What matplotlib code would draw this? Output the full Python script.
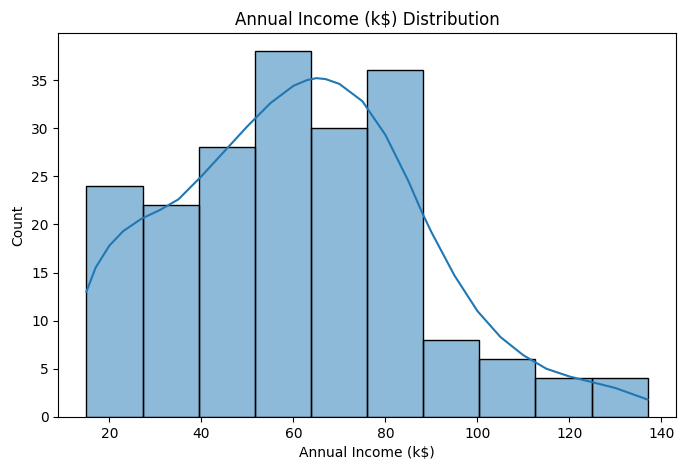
import matplotlib
matplotlib.use("Agg")
import matplotlib.pyplot as plt
import numpy as np

bin_edges = [15.0, 27.2, 39.4, 51.6, 63.8, 76.0, 88.2, 100.4, 112.6, 124.8, 137.0]
counts = [24, 22, 28, 38, 30, 36, 8, 6, 4, 4]
kde_x = [15, 17, 20, 23, 27, 31, 35, 40, 45, 50, 55, 60, 63, 65, 67, 70, 75, 80, 85, 88, 90, 95, 100, 105, 110, 115, 120, 125, 130, 137]
kde_y = [13, 15.5, 17.8, 19.3, 20.6, 21.5, 22.6, 25, 27.6, 30.2, 32.6, 34.4, 35.0, 35.2, 35.1, 34.6, 32.8, 29.3, 24.5, 21.2, 19.2, 14.7, 11.0, 8.3, 6.4, 5.0, 4.2, 3.6, 3.0, 1.8]

fig, ax = plt.subplots(figsize=(6.86, 4.7), dpi=100)
fig.subplots_adjust(left=0.085, right=0.985, top=0.93, bottom=0.113)
widths = np.diff(bin_edges)
ax.bar(bin_edges[:-1], counts, width=widths, align='edge', color='#1f77b4', alpha=0.5,
       edgecolor='none')
ax.bar(bin_edges[:-1], counts, width=widths, align='edge', fill=False, edgecolor='black', linewidth=1)
ax.plot(kde_x, kde_y, color='#1f77b4', linewidth=1.5)
ax.set_title("Annual Income (k$) Distribution")
ax.set_xlabel("Annual Income (k$)")
ax.set_ylabel("Count")
ax.set_xticks([20, 40, 60, 80, 100, 120, 140])
ax.set_yticks([0, 5, 10, 15, 20, 25, 30, 35])
ax.set_xlim(8.9, 143.1)
ax.set_ylim(0, 39.9)
fig.savefig("out.png")
